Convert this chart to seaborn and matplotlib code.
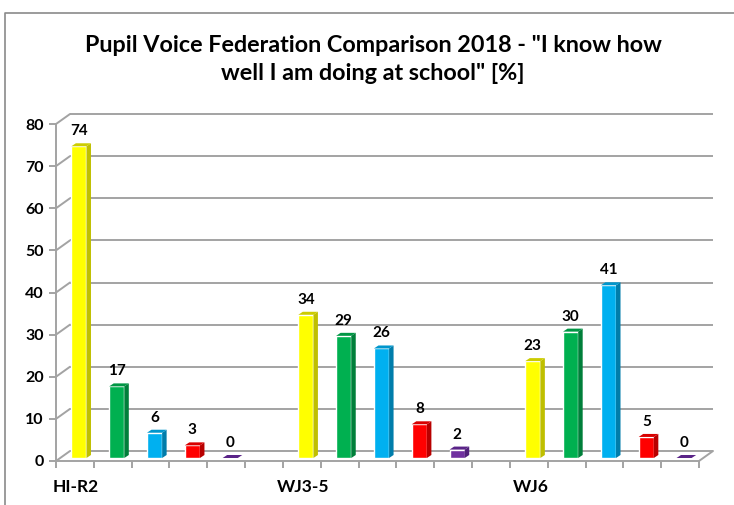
import pandas as pd
import seaborn as sns
import matplotlib
matplotlib.use("Agg")
import matplotlib.pyplot as plt
from matplotlib.lines import Line2D
from matplotlib.patches import Polygon

# Data
groups = ["HI-R2", "WJ3-5", "WJ6"]
responses = ["r1", "r2", "r3", "r4", "r5"]
values_hi = [74, 17, 6, 3, 0]
values_wj35 = [34, 29, 26, 8, 2]
values_wj6 = [23, 30, 41, 5, 0]
y_ticks = [0, 10, 20, 30, 40, 50, 60, 70, 80]
title = 'Pupil Voice Federation Comparison 2018 - "I know how\nwell I am doing at school" [%]'

front_colors = ["#FFFF00", "#00B050", "#00B0F0", "#FF0000", "#7030A0"]
side_colors = ["#BFBF00", "#007F3A", "#007DAB", "#B80000", "#50207A"]
top_colors = ["#CCCC00", "#009644", "#0096CC", "#D80000", "#5A2488"]

GRID = "#A3A3A3"
W, H = 734, 505
SLOTS = 17
LEFT, RIGHT, TOP, BOTTOM = 56, 699, 124, 461

sns.set_theme(style="white")
plt.rcParams["font.family"] = ["Lato", "DejaVu Sans"]

rows = []
for g, vals in enumerate([values_hi, values_wj35, values_wj6]):
    for r, v in enumerate(vals):
        rows.append({"slot": g * 6 + r + 0.5, "value": v, "response": responses[r]})
df = pd.DataFrame(rows)

fig = plt.figure(figsize=(W / 100, H / 100), dpi=100)
ax = fig.add_axes([LEFT / W, 1 - BOTTOM / H, (RIGHT - LEFT) / W, (BOTTOM - TOP) / H])

sns.barplot(data=df, x="slot", y="value", hue="response", hue_order=responses,
            palette=front_colors, dodge=False, native_scale=True, width=0.4,
            legend=False, saturation=1, ax=ax, zorder=3)
ax.set_xlim(0, SLOTS)
ax.set_ylim(0, 80)
ax.set_xlabel("")
ax.set_ylabel("")

# pixel sizes in data units
px = SLOTS / (RIGHT - LEFT)
py = 80 / (BOTTOM - TOP)
wall_x, wall_y = 14 * px, 10 * py
lift_x, lift_y = 4 * px, 3 * py
side_x, side_y = 4.5 * px, 3 * py

# back wall and floor lines
ax.hlines([t + wall_y for t in y_ticks], wall_x, SLOTS + wall_x, color=GRID, lw=1.4,
          clip_on=False, zorder=1)
for t in y_ticks:
    ax.plot([0, wall_x], [t, t + wall_y], color=GRID, lw=1.4, clip_on=False, zorder=1)
ax.plot([SLOTS, SLOTS + wall_x], [0, wall_y], color=GRID, lw=1.4, clip_on=False, zorder=1)

# front bars get lifted onto the floor, then side and top faces
for c, container in enumerate(ax.containers):
    for bar in container:
        bar.set_clip_on(False)
        x0, w, h = bar.get_x() + lift_x, bar.get_width(), bar.get_height()
        bar.set_x(x0)
        bar.set_y(lift_y)
        x1, y0, y1 = x0 + w, lift_y, lift_y + h
        ax.add_patch(Polygon([(x1, y0), (x1 + side_x, y0 + side_y), (x1 + side_x, y1 + side_y), (x1, y1)],
                             fc=side_colors[c], ec="none", clip_on=False, zorder=3))
        ax.add_patch(Polygon([(x0, y1), (x1, y1), (x1 + side_x, y1 + side_y), (x0 + side_x, y1 + side_y)],
                             fc=top_colors[c], ec="none", clip_on=False, zorder=3))
        ax.text(x0 + w / 2, y1 + 15 * py, f"{h:.0f}", ha="center", va="center",
                fontsize=11, fontweight="bold", color="black", zorder=4)

sns.despine(ax=ax, top=True, right=True)
for s in ["left", "bottom"]:
    ax.spines[s].set_color(GRID)
    ax.spines[s].set_linewidth(1.4)

ax.set_yticks(y_ticks)
ax.set_yticklabels([str(t) for t in y_ticks], fontsize=11.5, fontweight="bold", color="black")
ax.set_xticks(range(SLOTS + 1))
ax.set_xticklabels([])
ax.tick_params(axis="both", length=5, width=1.4, color=GRID, left=True, bottom=True, pad=4)

for g, name in enumerate(groups):
    ax.text([-0.08, 5.85, 12.08][g], -26 * py, name, ha="left", va="center",
            fontsize=12.5, fontweight="bold", color="black", clip_on=False)

fig.text(373 / W, 1 - 59.5 / H, title, ha="center", va="center", fontsize=16.8,
         fontweight="bold", color="black", linespacing=1.4)

# outer chart border
fig.add_artist(Line2D([5 / W, 5 / W, 1], [0, 1 - 12.5 / H, 1 - 12.5 / H], color="#8A8A8A", lw=1.2))

fig.savefig("out.png", dpi=100)
plt.close(fig)
